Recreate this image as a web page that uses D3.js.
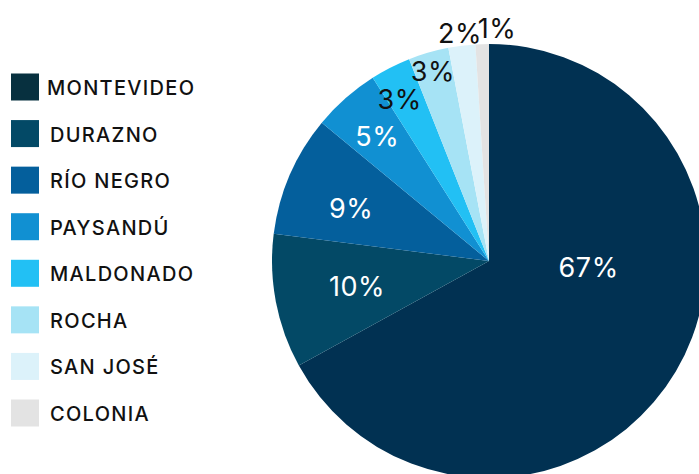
<!DOCTYPE html>
<html>
<head>
<meta charset="utf-8">
<script src="https://cdn.jsdelivr.net/npm/d3@7"></script>
<style>
  html, body { margin: 0; padding: 0; background: #ffffff; }
  svg { display: block; }
</style>
</head>
<body>
<svg id="chart" width="699" height="474"></svg>
<script>
// ---- data ----
const categories = ["MONTEVIDEO", "DURAZNO", "RÍO NEGRO", "PAYSANDÚ", "MALDONADO", "ROCHA", "SAN JOSÉ", "COLONIA"];
const values = [67, 10, 9, 5, 3, 3, 2, 1];
const pieColors = ["#013152", "#034966", "#045f9c", "#1190d2", "#22c0f4", "#a6e3f5", "#dcf2fa", "#e3e3e3"];
const legendColors = ["#07303f", "#034966", "#045f9c", "#1190d2", "#22c0f4", "#a6e3f5", "#dcf2fa", "#e3e3e3"];
const labelColors = ["#ffffff", "#ffffff", "#ffffff", "#ffffff", "#111111", "#111111", "#111111", "#111111"];
// label placement: [angle in degrees clockwise from top, radius as fraction of pie radius]
const labelPlacement = [[93.5, 0.46], [259, 0.62], [291, 0.68], [318, 0.77], [331, 0.85], [343.5, 0.91], [352.7, 1.055], [362, 1.07]];

// ---- layout ----
const svg = d3.select("#chart");
const cx = 489, cy = 261, R = 217;
const FONT = "Inter, 'Noto Sans', sans-serif";

const pie = d3.pie().value(d => d).sort(null);
const arcs = pie(values);
const arc = d3.arc().innerRadius(0).outerRadius(R);

const g = svg.append("g").attr("transform", `translate(${cx},${cy})`);
g.selectAll("path.slice")
  .data(arcs)
  .join("path")
  .attr("class", "slice")
  .attr("d", arc)
  .attr("fill", (d, i) => pieColors[i]);

g.selectAll("text.lbl")
  .data(arcs)
  .join("text")
  .attr("class", "lbl")
  .attr("x", (d, i) => Math.sin(labelPlacement[i][0] * Math.PI / 180) * labelPlacement[i][1] * R)
  .attr("y", (d, i) => -Math.cos(labelPlacement[i][0] * Math.PI / 180) * labelPlacement[i][1] * R)
  .attr("text-anchor", "middle")
  .attr("dominant-baseline", "central")
  .attr("font-family", FONT)
  .attr("font-size", 27)
  .attr("font-weight", 400)
  .attr("letter-spacing", 0.5)
  .attr("fill", (d, i) => labelColors[i])
  .text(d => d.data + "%");

// ---- legend ----
const ly = d3.scalePoint().domain(categories).range([87, 413]);
const leg = svg.append("g");
const items = leg.selectAll("g.item").data(categories).join("g")
  .attr("class", "item")
  .attr("transform", d => `translate(0,${ly(d)})`);
items.append("rect")
  .attr("x", 11).attr("y", -13.5)
  .attr("width", 28).attr("height", 27)
  .attr("fill", (d, i) => legendColors[i]);
items.append("text")
  .attr("x", (d, i) => i === 0 ? 47 : 50)
  .attr("y", 1)
  .attr("dominant-baseline", "central")
  .attr("font-family", FONT)
  .attr("font-size", 20)
  .attr("font-weight", 500)
  .attr("letter-spacing", 1.3)
  .attr("fill", "#111111")
  .text(d => d);
</script>
</body>
</html>
